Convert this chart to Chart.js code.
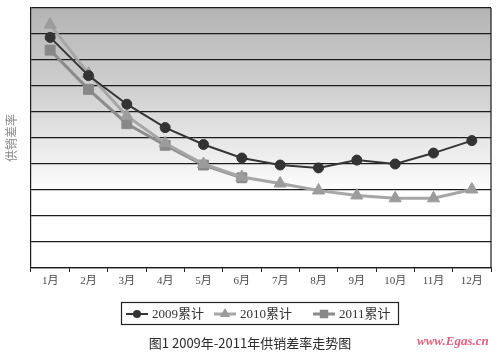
<!DOCTYPE html>
<html>
<head>
<meta charset="utf-8">
<script src="https://cdn.jsdelivr.net/npm/chart.js@4"></script>
<style>
  html, body { margin: 0; padding: 0; background: #fff; }
  #wrap { position: relative; width: 500px; height: 353px; }
  #mark {
    position: absolute; left: 417px; top: 333px;
    font: italic bold 13px "Liberation Serif", serif;
    color: #e2607e; white-space: nowrap;
  }
</style>
</head>
<body>
<div id="wrap">
  <canvas id="chart1" width="500" height="353"></canvas>
  <div id="mark">www.Egas.cn</div>
</div>
<script>
const months = ['1月', '2月', '3月', '4月', '5月', '6月', '7月', '8月', '9月', '10月', '11月', '12月']
const names = ['2009累计', '2010累计', '2011累计']
const s2009 = [8.87, 7.40, 6.30, 5.40, 4.75, 4.23, 3.96, 3.85, 4.15, 4.00, 4.42, 4.90]
const s2010 = [9.36, 7.47, 5.85, 4.80, 4.00, 3.50, 3.25, 2.98, 2.79, 2.68, 2.68, 3.02]
const s2011 = [8.38, 6.87, 5.55, 4.72, 3.96, 3.47, null, null, null, null, null, null]
const yTitle = '供销差率'
const caption = '图1 2009年-2011年供销差率走势图'

const styles = [
  { color: '#353535', fill: '#333333', point: 'circle', r: 5, w: 2 },
  { color: '#a6a6a6', fill: '#9c9c9c', point: 'triangle', r: 7, w: 3 },
  { color: '#8c8c8c', fill: '#888888', point: 'rect', r: 7, w: 3 }
]

// gray to white band behind the plot, plus right border
const plotBg = {
  id: 'plotBg',
  beforeDatasetsDraw(chart) {
    const a = chart.chartArea, ctx = chart.ctx
    ctx.save()
    ctx.strokeStyle = '#1c1c1c'
    ctx.lineWidth = 1.2
    ctx.beginPath()
    ctx.moveTo(a.right, a.top)
    ctx.lineTo(a.right, a.bottom)
    ctx.stroke()
    ctx.restore()
  },
  beforeDraw(chart) {
    const a = chart.chartArea, ctx = chart.ctx
    const g = ctx.createLinearGradient(0, a.top, 0, a.top + 185)
    g.addColorStop(0, '#b4b4b4')
    g.addColorStop(0.5, '#d4d4d4')
    g.addColorStop(1, '#ffffff')
    ctx.save()
    ctx.fillStyle = g
    ctx.fillRect(a.left, a.top, a.right - a.left, a.bottom - a.top)
    ctx.restore()
  }
}

function marker(ctx, kind, x, y, r, fill) {
  ctx.fillStyle = fill
  ctx.beginPath()
  if (kind == 'circle') {
    ctx.arc(x, y, r, 0, Math.PI * 2)
  } else if (kind == 'triangle') {
    ctx.moveTo(x, y - r)
    ctx.lineTo(x + r * 0.87, y + r / 2)
    ctx.lineTo(x - r * 0.87, y + r / 2)
    ctx.closePath()
  } else {
    const s = r * Math.SQRT1_2
    ctx.rect(x - s, y - s, 2 * s, 2 * s)
  }
  ctx.fill()
}

// boxed legend and caption under the axis
const legendBox = {
  id: 'legendBox',
  afterDraw(chart) {
    const ctx = chart.ctx
    ctx.save()
    ctx.strokeStyle = '#222'
    ctx.lineWidth = 1.2
    ctx.strokeRect(121.5, 302.5, 277, 22)
    const starts = [126, 214, 313]
    ctx.font = '13px "Liberation Serif", "Noto Sans CJK SC", serif'
    ctx.textBaseline = 'middle'
    for (let i = 0; i < 3; i++) {
      const st = styles[i], x0 = starts[i], y0 = 314
      ctx.strokeStyle = st.color
      ctx.lineWidth = st.w
      ctx.beginPath()
      ctx.moveTo(x0, y0)
      ctx.lineTo(x0 + 22, y0)
      ctx.stroke()
      marker(ctx, st.point, x0 + 11, y0, st.r - 1, st.fill)
      ctx.fillStyle = '#333'
      ctx.fillText(names[i], x0 + 26, y0 + 1)
    }
    ctx.font = '13px "Noto Sans CJK SC", sans-serif'
    ctx.textAlign = 'center'
    ctx.fillStyle = '#2a2a2a'
    ctx.fillText(caption, 250, 343)
    ctx.restore()
  }
}

const seriesData = [s2009, s2010, s2011]
const datasets = seriesData.map((d, i) => ({
  label: names[i],
  data: d,
  borderColor: styles[i].color,
  borderWidth: styles[i].w,
  backgroundColor: styles[i].fill,
  pointBackgroundColor: styles[i].fill,
  pointBorderColor: styles[i].fill,
  pointBorderWidth: 1,
  pointStyle: styles[i].point,
  pointRadius: styles[i].r,
  tension: 0,
  spanGaps: false
}))

const config = {
  type: 'line',
  data: { labels: months, datasets: datasets },
  options: {
    responsive: false,
    animation: false,
    layout: { padding: { left: 0, right: 9, top: 3, bottom: 61 } },
    plugins: {
      legend: { display: false },
      tooltip: { enabled: false }
    },
    scales: {
      x: {
        offset: true,
        grid: { offset: true, drawOnChartArea: false, tickLength: 4, color: '#222', lineWidth: 1 },
        border: { color: '#1c1c1c', width: 1.2 },
        ticks: { padding: 3, color: '#4a4a4a', font: { family: '"Liberation Serif", "Noto Sans CJK SC", serif', size: 11 } },
        afterFit(s) { s.height = 24 }
      },
      y: {
        min: 0,
        max: 10,
        ticks: { display: false, stepSize: 1 },
        grid: { color: '#1c1c1c', lineWidth: 1.2, drawTicks: false },
        border: { color: '#1c1c1c', width: 1.2 },
        title: { display: true, text: yTitle, color: '#8a8a8a', font: { family: '"Noto Sans CJK SC", serif', size: 12 } },
        afterFit(s) { s.width = 31 }
      }
    }
  },
  plugins: [plotBg, legendBox]
}

const myChart = new Chart(document.getElementById('chart1'), config)
</script>
</body>
</html>
